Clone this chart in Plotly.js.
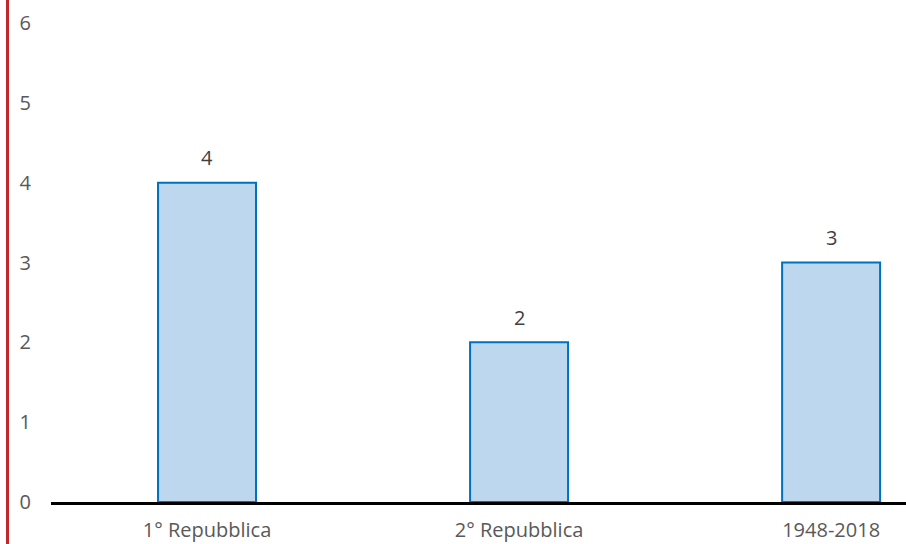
<!DOCTYPE html>
<html>
<head>
<meta charset="utf-8">
<script src="https://cdn.plot.ly/plotly-3.0.1.min.js"></script>
<style>html,body{margin:0;padding:0;background:#fff;}#chart{width:906px;height:544px;}</style>
</head>
<body>
<div id="chart"></div>
<script>
const categories = ["1° Repubblica", "2° Repubblica", "1948-2018"];
const values = [4, 2, 3];
const yTicks = [0, 1, 2, 3, 4, 5, 6];

const W = 906, H = 544, ML = 51;
const FONT = 'Open Sans, Noto Sans, sans-serif';
const trace = {
  type: 'bar',
  x: categories,
  y: values,
  width: 0.314,
  marker: {color: '#BDD7EE', line: {color: '#0070C0', width: 2}},
  hoverinfo: 'skip'
};
const annotations = categories.map((c, i) => ({
  x: c, y: values[i], xref: 'x', yref: 'y',
  text: String(values[i]), showarrow: false, yshift: 25,
  font: {family: FONT, size: 20, color: '#404040'}
}));
const layout = {
  width: W, height: H,
  margin: {l: ML, r: 0, t: 0, b: 42},
  paper_bgcolor: '#fff', plot_bgcolor: '#fff',
  showlegend: false,
  font: {family: FONT, size: 20, color: '#595959'},
  xaxis: {
    type: 'category', range: [-0.5, 2.24], showgrid: false, zeroline: false,
    showline: true, linecolor: '#000', linewidth: 3, ticks: '',
    ticklabelstandoff: 8, fixedrange: true,
    tickfont: {family: FONT, size: 20, color: '#595959'}
  },
  yaxis: {
    range: [0, 6.288], tickvals: yTicks, ticktext: yTicks.map(String),
    showgrid: false, zeroline: false, showline: false, ticks: '',
    ticklabelstandoff: 19, fixedrange: true,
    tickfont: {family: FONT, size: 20, color: '#595959'}
  },
  shapes: [{
    type: 'line', xref: 'paper', yref: 'paper',
    x0: (7.5 - ML) / (W - ML), x1: (7.5 - ML) / (W - ML), y0: -1, y1: 2,
    line: {color: '#C0282A', width: 3}
  }],
  annotations: annotations
};
Plotly.newPlot('chart', [trace], layout, {displayModeBar: false, staticPlot: true});
</script>
</body>
</html>
